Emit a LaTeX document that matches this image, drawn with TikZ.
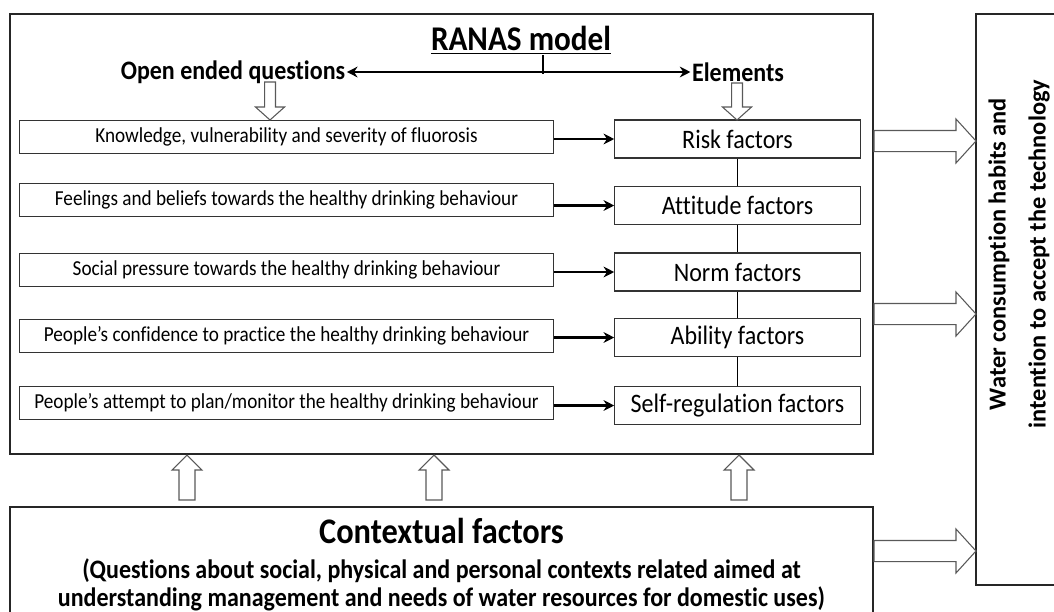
\documentclass[tikz,border=0pt]{standalone}
\usepackage{fontspec}
\setmainfont{Carlito}[FakeStretch=0.9, Ligatures=NoCommon]
\newfontfamily\sidefont{Carlito}[Ligatures=NoCommon]
\usetikzlibrary{arrows.meta,calc}
\tikzset{
  panel/.style={draw=black!85, line width=1.4pt, inner sep=0pt},
  qbox/.style={draw=black!80, line width=0.9pt, minimum width=400pt, minimum height=24.75pt,
    inner sep=0pt, font=\fontsize{16}{18}\selectfont},
  factorbox/.style={draw=black!80, line width=0.9pt, minimum width=184pt, minimum height=28.5pt,
    inner sep=0pt, font=\fontsize{20}{24}\selectfont},
  head/.style={inner sep=1pt, font=\bfseries\fontsize{20}{24}\selectfont},
  link/.style={line width=1.9pt, -{Stealth[length=8pt,width=8pt]}},
  barrow/.style n args={3}{draw=black!65, line width=0.8pt, fill=white, to path={
    ($(\tikztostart)!#1!90:(\tikztotarget)$)
    -- ($($(\tikztotarget)!#3!(\tikztostart)$)!#1!-90:(\tikztostart)$)
    -- ($($(\tikztotarget)!#3!(\tikztostart)$)!#2!-90:(\tikztostart)$)
    -- (\tikztotarget)
    -- ($($(\tikztotarget)!#3!(\tikztostart)$)!#2!90:(\tikztostart)$)
    -- ($($(\tikztotarget)!#3!(\tikztostart)$)!#1!90:(\tikztostart)$)
    -- ($(\tikztostart)!#1!-90:(\tikztotarget)$)
    -- cycle}},
}
\begin{document}
\begin{tikzpicture}[x=0.75pt, y=-0.75pt]
  \useasboundingbox (0,0) rectangle (1054,611);
  % frames
  \node[panel, minimum width=647.25pt, minimum height=330pt] (ranas) at (441.5,234) {};
  \node[panel, minimum width=647.25pt, minimum height=88.5pt] (ctx) at (441.5,566) {};
  \node[panel, minimum width=70.5pt, minimum height=428.25pt] (water) at (1023,299.5) {};
  % heading
  \node[inner sep=1pt, font=\bfseries\fontsize{26}{30}\selectfont] (title) at (521,40) {\underline{RANAS model}};
  \node[head] (oeq) at (233,72) {Open ended questions};
  \node[head] (elem) at (738,72) {Elements};
  \coordinate (stem) at (543,74);
  \draw[line width=1.3pt] (title.south -| stem) -- (stem);
  \draw[line width=1.9pt, {Stealth[length=8pt,width=8pt]}-{Stealth[length=8pt,width=8pt]}] (oeq.east) -- (elem.west);
  % questions
  \node[qbox] (q1) at (286.5,137) {Knowledge, vulnerability and severity of fluorosis};
  \node[qbox] (q2) at (286.5,200) {Feelings and beliefs towards the healthy drinking behaviour};
  \node[qbox] (q3) at (286.5,270) {Social pressure towards the healthy drinking behaviour};
  \node[qbox] (q4) at (286.5,336) {People’s confidence to practice the healthy drinking behaviour};
  \node[qbox] (q5) at (286.5,403) {People’s attempt to plan/monitor the healthy drinking behaviour};
  % elements
  \node[factorbox] (f1) at (737.5,139) {Risk factors};
  \node[factorbox] (f2) at (737.5,205.5) {Attitude factors};
  \node[factorbox] (f3) at (737.5,272) {Norm factors};
  \node[factorbox] (f4) at (737.5,337.5) {Ability factors};
  \node[factorbox] (f5) at (737.5,405.5) {Self-regulation factors};
  \begin{scope}[line width=1.3pt]
    \draw (f1) -- (f2);
    \draw (f2) -- (f3);
    \draw (f3) -- (f4);
    \draw (f4) -- (f5);
  \end{scope}
  \begin{scope}[link]
    \draw (q1.east |- f1) -- (f1);
    \draw (q2.east |- f2) -- (f2);
    \draw (q3.east |- f3) -- (f3);
    \draw (q4.east |- f4) -- (f4);
    \draw (q5.east |- f5) -- (f5);
  \end{scope}
  % contextual factors
  \node[inner sep=1pt, font=\bfseries\fontsize{27}{30}\selectfont] (ctxhead) at (441.5,531) {Contextual factors};
  \node[inner sep=1pt, align=center, font=\bfseries\fontsize{20}{20.5}\selectfont] (ctxtext) at (441.5,585)
    {(Questions about social, physical and personal contexts related aimed at\\understanding management and needs of water resources for domestic uses)};
  \node[rotate=90, inner sep=1pt, align=center, font=\sidefont\bfseries\fontsize{18.3}{30}\selectfont] (watertext) at (1019,254)
    {Water consumption habits and\\intention to accept the technology};
  % block arrows
  \coordinate (d1s) at (270,82);  \coordinate (d1e) at (270,120);
  \coordinate (d2s) at (737,83);  \coordinate (d2e) at (737,120);
  \coordinate (u1s) at (187,500); \coordinate (u1e) at (187,455);
  \coordinate (u2s) at (434,500); \coordinate (u2e) at (434,455);
  \coordinate (u3s) at (739,500); \coordinate (u3e) at (739,455);
  \coordinate (r1s) at (874,141); \coordinate (r1e) at (976,141);
  \coordinate (r2s) at (874,314); \coordinate (r2e) at (976,314);
  \coordinate (r3s) at (874,551); \coordinate (r3e) at (976,551);
  \draw[barrow={4.1pt}{10.9pt}{9.75pt}] (d1s) to (d1e);
  \draw[barrow={4.1pt}{10.9pt}{9.75pt}] (d2s) to (d2e);
  \draw[barrow={6pt}{11.25pt}{11.25pt}] (u1s) to (u1e);
  \draw[barrow={6pt}{11.25pt}{11.25pt}] (u2s) to (u2e);
  \draw[barrow={6pt}{11.25pt}{11.25pt}] (u3s) to (u3e);
  \draw[barrow={7.9pt}{16.5pt}{15pt}] (r1s) to (r1e);
  \draw[barrow={7.9pt}{16.5pt}{15pt}] (r2s) to (r2e);
  \draw[barrow={7.9pt}{16.5pt}{15pt}] (r3s) to (r3e);
\end{tikzpicture}
\end{document}
